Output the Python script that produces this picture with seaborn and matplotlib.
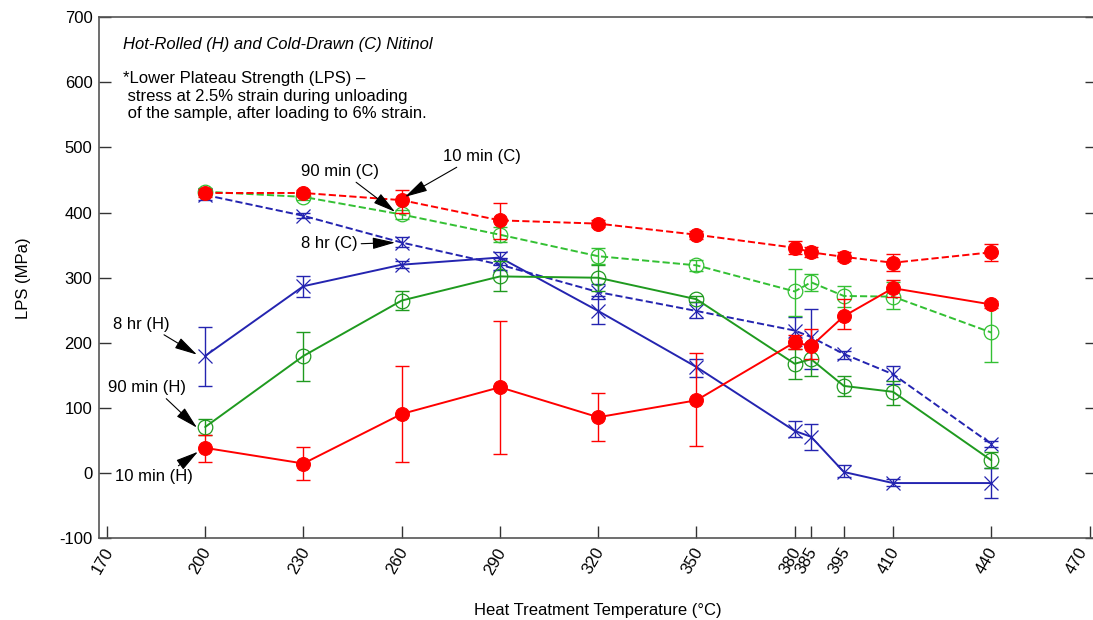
import numpy as np
import matplotlib
matplotlib.use('Agg')
import matplotlib.pyplot as plt
import matplotlib.transforms as mtransforms
import seaborn as sns

# heat treatment temperatures (deg C)
temps = [200, 230, 260, 290, 320, 350, 380, 385, 395, 410, 440]
tick_temps = [170, 200, 230, 260, 290, 320, 350, 380, 385, 395, 410, 440, 470]

# 10 min (C) - red dashed
lps_10min_c = [430, 430, 419, 388, 383, 366, 346, 339, 332, 323, 339]
lo_10min_c = [424, 425, 400, 360, 378, 360, 336, 332, 325, 310, 325]
hi_10min_c = [436, 435, 435, 415, 388, 372, 356, 347, 339, 336, 351]

# 10 min (H) - red solid
lps_10min_h = [39, 15, 91, 132, 86, 112, 201, 195, 241, 284, 259]
lo_10min_h = [17, -11, 17, 29, 50, 42, 190, 175, 221, 271, 254]
hi_10min_h = [58, 41, 165, 234, 123, 184, 212, 222, 267, 297, 264]

# 90 min (C) - green dashed
lps_90min_c = [432, 424, 397, 366, 333, 319, 279, 293, 272, 271, 216]
lo_90min_c = [427, 419, 390, 355, 321, 311, 241, 279, 255, 252, 171]
hi_90min_c = [437, 429, 404, 378, 345, 327, 314, 305, 288, 293, 259]

# 90 min (H) - green solid
lps_90min_h = [71, 180, 265, 302, 300, 267, 168, 175, 134, 125, 20]
lo_90min_h = [58, 142, 251, 280, 280, 262, 145, 150, 119, 104, 8]
hi_90min_h = [84, 217, 279, 325, 320, 272, 190, 195, 149, 141, 33]

# 8 hr (C) - blue dashed
lps_8hr_c = [427, 395, 354, 320, 278, 249, 219, 209, 183, 152, 45]
lo_8hr_c = [420, 391, 347, 312, 268, 238, 196, 160, 175, 137, 40]
hi_8hr_c = [434, 399, 362, 330, 290, 262, 240, 252, 188, 164, 50]

# 8 hr (H) - blue solid
lps_8hr_h = [180, 287, 320, 331, 249, 163, 65, 56, 2, -15, -15]
lo_8hr_h = [134, 270, 315, 320, 229, 147, 55, 35, -5, -20, -38]
hi_8hr_h = [225, 302, 325, 340, 272, 175, 80, 76, 12, -9, 8]

RED = '#ff0000'
GREEN = '#1f9a1f'
LGREEN = '#33c033'
BLUE = '#2424b0'

sns.set_theme(style='ticks')
plt.rcParams['font.family'] = ['Liberation Sans', 'DejaVu Sans']
plt.rcParams['axes.unicode_minus'] = False
plt.rcParams['text.color'] = 'black'
plt.rcParams['axes.labelcolor'] = 'black'
plt.rcParams['xtick.color'] = 'black'
plt.rcParams['ytick.color'] = 'black'

fig = plt.figure(figsize=(10.93, 6.2), dpi=100)
ax = fig.add_axes([0.0909, 0.1315, 0.9128, 0.8411])

series = [
    (lps_8hr_h, lo_8hr_h, hi_8hr_h, BLUE, '-', 'x', 'full'),
    (lps_8hr_c, lo_8hr_c, hi_8hr_c, BLUE, '--', 'x', 'full'),
    (lps_90min_h, lo_90min_h, hi_90min_h, GREEN, '-', 'o', 'none'),
    (lps_90min_c, lo_90min_c, hi_90min_c, LGREEN, '--', 'o', 'none'),
    (lps_10min_h, lo_10min_h, hi_10min_h, RED, '-', 'o', 'full'),
    (lps_10min_c, lo_10min_c, hi_10min_c, RED, '--', 'o', 'full'),
]

for vals, lo, hi, col, ls, mk, fill in series:
    vals = np.array(vals)
    yerr = [vals - np.array(lo), np.array(hi) - vals]
    ax.errorbar(temps, vals, yerr=yerr, fmt='none', ecolor=col, elinewidth=1.0,
                capsize=5, capthick=1.0)
    if fill == 'none':
        sns.lineplot(x=temps, y=vals, ax=ax, color=col, linestyle=ls, lw=1.4,
                     marker=mk, markersize=10.5, markerfacecolor='none',
                     markeredgecolor=col, markeredgewidth=0.9)
    elif mk == 'x':
        sns.lineplot(x=temps, y=vals, ax=ax, color=col, linestyle=ls, lw=1.4,
                     marker=mk, markersize=10, markeredgecolor=col,
                     markeredgewidth=0.9)
    else:
        sns.lineplot(x=temps, y=vals, ax=ax, color=col, linestyle=ls, lw=1.4,
                     marker=mk, markersize=10, markerfacecolor=col,
                     markeredgecolor=col)

ax.set_xlim(167.7, 472.3)
ax.set_ylim(-100, 700)
ax.set_xticks(tick_temps)
ax.set_xticklabels([str(t) for t in tick_temps], rotation=60, ha='right',
                   rotation_mode='anchor', fontsize=12)
ax.set_yticks(np.arange(-100, 701, 100))
ax.tick_params(axis='y', labelsize=12, pad=5)
ax.tick_params(direction='in', length=8.5, width=1.0, color='#333333',
               right=True, top=False)
for sp in ax.spines.values():
    sp.set_color('#555555')
    sp.set_linewidth(1.2)

# nudge x tick labels (after tick_params, which resets their transforms)
for lab in ax.get_xticklabels():
    dx = -12 if lab.get_text() == '470' else -4
    shift = mtransforms.ScaledTranslation(dx / 100, -2 / 100, fig.dpi_scale_trans)
    lab.set_transform(lab.get_transform() + shift)

ax.set_ylabel('LPS (MPa)', fontsize=12, labelpad=20)
ax.set_xlabel('Heat Treatment Temperature (°C)', fontsize=12, labelpad=19)

ax.text(0.0238, 0.948, 'Hot-Rolled (H) and Cold-Drawn (C) Nitinol',
        transform=ax.transAxes, fontsize=12, style='italic', va='center')
ax.text(0.0238, 0.8965,
        '*Lower Plateau Strength (LPS) –\n stress at 2.5% strain during unloading\n'
        ' of the sample, after loading to 6% strain.',
        transform=ax.transAxes, fontsize=12, va='top', linespacing=1.22)

arrow = dict(arrowstyle='-|>,head_length=0.7,head_width=0.18', color='black',
             lw=0.8, mutation_scale=20, shrinkA=0, shrinkB=0)
ax.annotate('10 min (C)', xy=(261, 424), xytext=(284.5, 486), fontsize=12,
            ha='center', va='center', arrowprops=dict(arrow, relpos=(0.25, 0)))
ax.annotate('90 min (C)', xy=(258, 401), xytext=(241.2, 463), fontsize=12,
            ha='center', va='center', arrowprops=dict(arrow, relpos=(0.65, 0)))
ax.annotate('8 hr (C)', xy=(258, 354), xytext=(238, 352), fontsize=12,
            ha='center', va='center', arrowprops=dict(arrow, relpos=(1, 0.5)))
ax.annotate('8 hr (H)', xy=(197.5, 182), xytext=(180.6, 229), fontsize=12,
            ha='center', va='center', arrowprops=dict(arrow, relpos=(0.8, 0)))
ax.annotate('90 min (H)', xy=(197.5, 70), xytext=(182.3, 131), fontsize=12,
            ha='center', va='center', arrowprops=dict(arrow, relpos=(0.7, 0)))
ax.annotate('10 min (H)', xy=(197.8, 33), xytext=(184.5, -5), fontsize=12,
            ha='center', va='center', arrowprops=dict(arrow, relpos=(0.75, 1)))

fig.savefig('out.png', dpi=100)
